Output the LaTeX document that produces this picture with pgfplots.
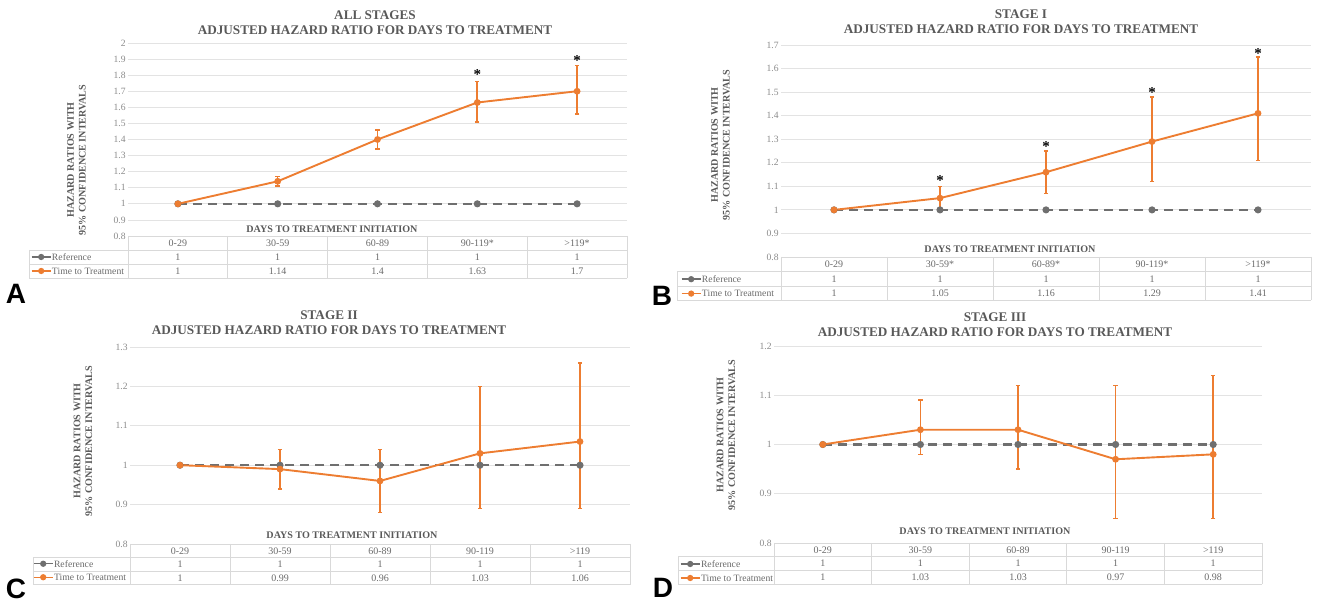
\documentclass[border=0pt]{standalone}
\usepackage{fontspec}
\setmainfont{Liberation Serif}
\newfontfamily\lsans{Liberation Sans}
\usepackage{pgfplots}
\usepackage{pgfplotstable}
\pgfplotsset{compat=1.18}
\definecolor{orng}{HTML}{ED7D31}
\definecolor{refc}{HTML}{6F6F6F}
\definecolor{gridc}{HTML}{E3E3E3}
\definecolor{tabl}{HTML}{D9D9D9}
\definecolor{tickc}{HTML}{8A8A8A}
\definecolor{ttlc}{HTML}{595959}
\definecolor{tabc}{HTML}{6A6A6A}

\newcommand\ttlfont{\bfseries\fontsize{6.6}{7.5}\selectfont}
\newcommand\labfont{\bfseries\fontsize{5.05}{5.8}\selectfont}
\newcommand\tabfont{\fontsize{5}{6}\selectfont}
\newcommand\legfont{\fontsize{4.85}{6}\selectfont}

% data: x, hazard ratio, CI upper minus HR, HR minus CI lower
\pgfplotstableread{
x y ep em
0 1    0    0
1 1.14 0.03 0.03
2 1.40 0.06 0.06
3 1.63 0.13 0.12
4 1.70 0.16 0.14
}\tA
\pgfplotstableread{
x y ep em
0 1    0    0
1 1.05 0.05 0.05
2 1.16 0.09 0.09
3 1.29 0.19 0.17
4 1.41 0.24 0.20
}\tB
\pgfplotstableread{
x y ep em
0 1    0    0
1 0.99 0.05 0.05
2 0.96 0.08 0.08
3 1.03 0.17 0.14
4 1.06 0.20 0.17
}\tC
\pgfplotstableread{
x y ep em
0 1    0    0
1 1.03 0.06 0.05
2 1.03 0.09 0.08
3 0.97 0.15 0.12
4 0.98 0.16 0.13
}\tD

\pgfplotsset{
 hr/.style={
  scale only axis, anchor=south west,
  xmin=-0.5, xmax=4.5, xtick=\empty,
  axis line style={draw=none},
  major tick length=0pt,
  ymajorgrids, grid style={gridc, line width=0.4pt},
  yticklabel style={font=\fontsize{4.8}{5}\selectfont, text=tickc, inner sep=1pt},
  /pgf/number format/assume math mode=true,
  clip=false,
  legend cell align=left,
  legend style={draw=none, fill=none, font=\legfont, text=tabc, inner sep=0pt, outer sep=0pt,
    row sep=0pt, column sep=0pt, anchor=north west,
    nodes={inner ysep=0pt, inner xsep=0.3pt, text depth=0pt}},
  legend image code/.code={\draw[mark repeat=2,mark phase=2,#1,solid,line width=0.7pt] plot coordinates {(0pt,0pt) (4.75pt,0pt) (9.5pt,0pt)};},
 },
 refl/.style={refc, line width=1.1pt, dash pattern=on 4.5pt off 3pt, mark=*, mark size=1.2pt, mark options={solid, fill=refc}},
 ttl/.style={orng, line width=0.95pt, mark=*, mark size=1.2pt, mark options={fill=orng},
   error bars/.cd, y dir=both, y explicit,
   error bar style={orng, line width=0.8pt, solid},
   error mark options={orng, rotate=90, line width=0.8pt, mark size=1.1pt}},
 starlab/.style={draw=none, mark=none, forget plot, nodes near coords={*},
   every node near coord/.append style={anchor=center, font=\bfseries\fontsize{7.5}{7.5}\selectfont, text=black, inner sep=0pt, yshift=-0.6pt}},
}

\tikzset{tabtxt/.style={font=\tabfont, text=tabc, inner sep=0pt, anchor=center}}

% #1 plot left px, #2 legend left px, #3 column width px, #4 table top px, #5 row height px,
% #6 category labels, #7 reference values, #8 time-to-treatment values
\newcommand\hrtable[8]{%
 \begin{scope}[x=0.5pt,y=-0.5pt,yshift=302pt]
  \pgfmathsetmacro\R{#1+5*#3}
  \draw[tabl,line width=0.4pt] ({#1},{#4}) -- ({\R},{#4});
  \draw[tabl,line width=0.4pt] ({#2},{#4+#5}) -- ({\R},{#4+#5});
  \draw[tabl,line width=0.4pt] ({#2},{#4+2*#5}) -- ({\R},{#4+2*#5});
  \draw[tabl,line width=0.4pt] ({#2},{#4+3*#5}) -- ({\R},{#4+3*#5});
  \draw[tabl,line width=0.4pt] ({#2},{#4+#5}) -- ({#2},{#4+3*#5});
  \foreach \k in {0,...,5} {\draw[tabl,line width=0.4pt] ({#1+\k*#3},{#4}) -- ({#1+\k*#3},{#4+3*#5});}
  \foreach \t [count=\i from 0] in {#6} {\node[tabtxt] at ({#1+(\i+0.5)*#3},{#4+0.5*#5}) {\t};}
  \foreach \t [count=\i from 0] in {#7} {\node[tabtxt] at ({#1+(\i+0.5)*#3},{#4+1.5*#5}) {\t};}
  \foreach \t [count=\i from 0] in {#8} {\node[tabtxt] at ({#1+(\i+0.5)*#3},{#4+2.5*#5}) {\t};}
 \end{scope}}

\begin{document}
\begin{tikzpicture}
\path[use as bounding box] (0,0) rectangle (659.5pt,302pt);

% ---------------- Panel A ----------------
\begin{axis}[hr, at={(64pt,184pt)}, width=249.5pt, height=96.5pt,
  ymin=0.8, ymax=2, ytick={0.8,0.9,1,1.1,1.2,1.3,1.4,1.5,1.6,1.7,1.8,1.9,2},
  legend style={at={(axis description cs:-0.1944,-0.0725)}, nodes={minimum height=7pt}}]
\addplot[refl] coordinates {(0,1) (1,1) (2,1) (3,1) (4,1)};
\addlegendentry{Reference}
\addplot[ttl] table[x=x,y=y,y error plus=ep,y error minus=em] {\tA};
\addlegendentry{Time to Treatment}
\addplot[starlab] coordinates {(3,1.81) (4,1.90)};
\end{axis}

% ---------------- Panel B ----------------
\begin{axis}[hr, at={(390.5pt,173.5pt)}, width=265pt, height=106pt,
  ymin=0.8, ymax=1.7, ytick={0.8,0.9,1,1.1,1.2,1.3,1.4,1.5,1.6,1.7},
  legend style={at={(axis description cs:-0.1887,-0.0708)}, nodes={minimum height=7.2pt}}]
\addplot[refl] coordinates {(0,1) (1,1) (2,1) (3,1) (4,1)};
\addlegendentry{Reference}
\addplot[ttl] table[x=x,y=y,y error plus=ep,y error minus=em] {\tB};
\addlegendentry{Time to Treatment}
\addplot[starlab] coordinates {(1,1.128) (2,1.274) (3,1.505) (4,1.67)};
\end{axis}

% ---------------- Panel C ----------------
\begin{axis}[hr, at={(65pt,30pt)}, width=250pt, height=98.5pt,
  ymin=0.8, ymax=1.3, ytick={0.8,0.9,1,1.1,1.2,1.3},
  legend style={at={(axis description cs:-0.194,-0.066)}, nodes={minimum height=6.75pt}}]
\addplot[refl] coordinates {(0,1) (1,1) (2,1) (3,1) (4,1)};
\addlegendentry{Reference}
\addplot[ttl] table[x=x,y=y,y error plus=ep,y error minus=em] {\tC};
\addlegendentry{Time to Treatment}
\end{axis}

% ---------------- Panel D ----------------
\begin{axis}[hr, at={(387pt,30.5pt)}, width=244pt, height=98.5pt,
  ymin=0.8, ymax=1.2, ytick={0.8,0.9,1,1.1,1.2},
  legend style={at={(axis description cs:-0.1926,-0.071)}, nodes={minimum height=7pt}}]
\addplot[refl] coordinates {(0,1) (1,1) (2,1) (3,1) (4,1)};
\addlegendentry{Reference}
\addplot[ttl] table[x=x,y=y,y error plus=ep,y error minus=em] {\tD};
\addlegendentry{Time to Treatment}
\end{axis}

% ---------------- tables ----------------
\hrtable{128}{29}{99.8}{236}{14}{0-29,30-59,60-89,90-119*,>119*}{1,1,1,1,1}{1,1.14,1.4,1.63,1.7}
\hrtable{781}{677}{106}{257}{14.5}{0-29,30-59*,60-89*,90-119*,>119*}{1,1,1,1,1}{1,1.05,1.16,1.29,1.41}
\hrtable{130}{33}{100}{544}{13.6}{0-29,30-59,60-89,90-119,>119}{1,1,1,1,1}{1,0.99,0.96,1.03,1.06}
\hrtable{774}{678}{97.6}{543}{13.8}{0-29,30-59,60-89,90-119,>119}{1,1,1,1,1}{1,1.03,1.03,0.97,0.98}

% ---------------- titles and labels ----------------
\begin{scope}[x=0.5pt,y=-0.5pt,yshift=302pt]
 \node[font=\ttlfont, text=ttlc, align=center, inner sep=0pt] at (375,22.5) {ALL STAGES\\ADJUSTED HAZARD RATIO FOR DAYS TO TREATMENT};
 \node[font=\ttlfont, text=ttlc, align=center, inner sep=0pt] at (1021,22) {STAGE I\\ADJUSTED HAZARD RATIO FOR DAYS TO TREATMENT};
 \node[font=\ttlfont, text=ttlc, align=center, inner sep=0pt] at (329,322.5) {STAGE II\\ADJUSTED HAZARD RATIO FOR DAYS TO TREATMENT};
 \node[font=\ttlfont, text=ttlc, align=center, inner sep=0pt] at (995,324.5) {STAGE III\\ADJUSTED HAZARD RATIO FOR DAYS TO TREATMENT};

 \node[font=\labfont, text=ttlc, align=center, rotate=90, inner sep=0pt] at (76.5,160) {HAZARD RATIOS WITH\\95\% CONFIDENCE INTERVALS};
 \node[font=\labfont, text=ttlc, align=center, rotate=90, inner sep=0pt] at (720.5,145) {HAZARD RATIOS WITH\\95\% CONFIDENCE INTERVALS};
 \node[font=\labfont, text=ttlc, align=center, rotate=90, inner sep=0pt] at (83,441) {HAZARD RATIOS WITH\\95\% CONFIDENCE INTERVALS};
 \node[font=\labfont, text=ttlc, align=center, rotate=90, inner sep=0pt] at (726,435) {HAZARD RATIOS WITH\\95\% CONFIDENCE INTERVALS};

 \node[font=\labfont, text=ttlc, inner sep=0pt] at (332,229) {DAYS TO TREATMENT INITIATION};
 \node[font=\labfont, text=ttlc, inner sep=0pt] at (1010,249.5) {DAYS TO TREATMENT INITIATION};
 \node[font=\labfont, text=ttlc, inner sep=0pt] at (352,535) {DAYS TO TREATMENT INITIATION};
 \node[font=\labfont, text=ttlc, inner sep=0pt] at (985,531) {DAYS TO TREATMENT INITIATION};

 \node[font=\lsans\bfseries\fontsize{14}{14}\selectfont, inner sep=0pt] at (16,294) {A};
 \node[font=\lsans\bfseries\fontsize{14}{14}\selectfont, inner sep=0pt] at (662,296) {B};
 \node[font=\lsans\bfseries\fontsize{14}{14}\selectfont, inner sep=0pt] at (16,589) {C};
 \node[font=\lsans\bfseries\fontsize{14}{14}\selectfont, inner sep=0pt] at (663,588) {D};
\end{scope}
\end{tikzpicture}
\end{document}
